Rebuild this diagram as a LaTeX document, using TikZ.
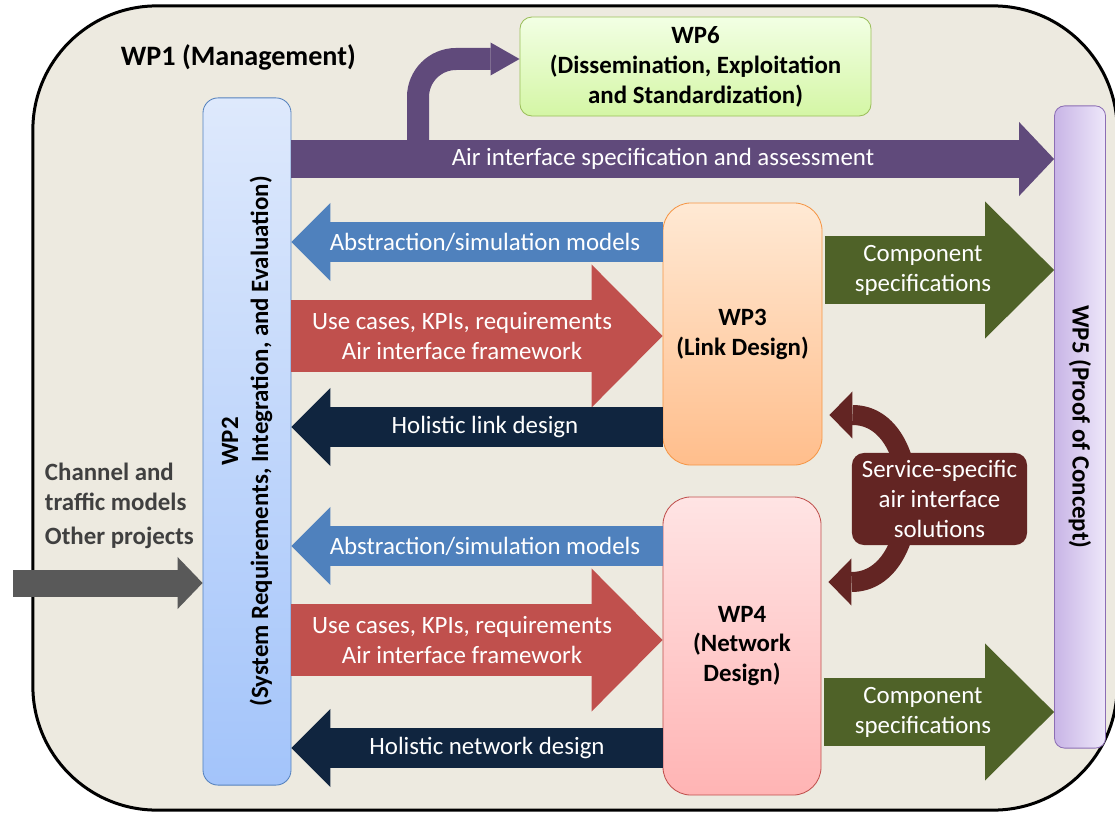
\documentclass[tikz,border=0pt]{standalone}
\usepackage{fontspec}
\setmainfont{Carlito}
\usetikzlibrary{arrows.meta,positioning}
\definecolor{bg}{RGB}{237,234,224}
\definecolor{pur}{RGB}{96,74,123}
\definecolor{blu}{RGB}{79,129,189}
\definecolor{rd}{RGB}{192,80,77}
\definecolor{navy}{RGB}{16,37,63}
\definecolor{olive}{RGB}{79,98,40}
\definecolor{gry}{RGB}{89,89,89}
\definecolor{txtgry}{RGB}{64,64,64}
\definecolor{dred}{RGB}{99,37,35}
\newcommand\wpfont{\fontsize{17.7}{21.3}\selectfont}
\tikzset{
  frame/.style={draw,line width=0.75mm,fill=bg,rounded corners=31mm,minimum width=271mm,minimum height=201mm},
  wpbox/.style={draw,line width=0.6pt,rounded corners=3.75mm,align=center,font=\bfseries\wpfont,inner sep=2pt},
  wptxt/.style={align=center,font=\bfseries\wpfont},
  lbl/.style={text=white,align=center,font=\wpfont},
  blk/.style n args={4}{draw=#1,fill=none,line width=#2,-{Triangle[length=#3,width=#4,line width=0pt]}},
  airarr/.style={blk={pur}{9.5mm}{8.75mm}{18.5mm}},
  bendarr/.style={blk={pur}{5.5mm}{7.25mm}{8.25mm},rounded corners=9.5mm},
  absarr/.style={blk={#1}{10mm}{9.75mm}{19.5mm}},
  usearr/.style={blk={rd}{18mm}{17.75mm}{35.75mm}},
  comparr/.style={blk={olive}{17mm}{17.25mm}{34.25mm},shorten <=0.6mm},
  inarr/.style={blk={gry}{6.75mm}{6.25mm}{13mm}},
  svcarr/.style={draw=dred,line width=5mm,{Triangle[length=5.75mm,width=11.75mm,line width=0pt]}-{Triangle[length=5.75mm,width=11.75mm,line width=0pt]},shorten <=1.75mm,shorten >=1.75mm}
}
\begin{document}
\begin{tikzpicture}[x=0.025cm,y=-0.025cm]
\useasboundingbox (0,0) rectangle (1115,813);
\node[frame] (wp1) at (575,408) {};
\node[wptxt,font=\bfseries\fontsize{20}{24}\selectfont,anchor=west] (wp1lbl) at (116,57) {WP1 (Management)};
% work packages
\node[wpbox,draw={rgb,255:red,85;green,130;blue,190},top color={rgb,255:red,222;green,233;blue,252},bottom color={rgb,255:red,163;green,196;blue,250},minimum width=22mm,minimum height=171.75mm] (wp2) at (247,441.5) {};
\node[wptxt,rotate=90] at (wp2) {WP2\\(System Requirements, Integration, and Evaluation)};
\node[wpbox,draw={rgb,255:red,155;green,190;blue,90},top color={rgb,255:red,242;green,255;blue,228},bottom color={rgb,255:red,212;green,246;blue,165},rounded corners=3mm,minimum width=87.75mm,minimum height=24.75mm] (wp6) at (695.5,66.5) {WP6\\(Dissemination, Exploitation\\and Standardization)};
\node[wpbox,draw={rgb,255:red,140;green,110;blue,180},left color={rgb,255:red,200;green,180;blue,230},right color={rgb,255:red,238;green,232;blue,250},rounded corners=2.5mm,minimum width=12.75mm,minimum height=160.5mm] (wp5) at (1080,427) {};
\node[wptxt,rotate=-90] at (wp5) {WP5 (Proof of Concept)};
\node[wpbox,draw={rgb,255:red,245;green,150;blue,70},top color={rgb,255:red,255;green,233;blue,212},bottom color={rgb,255:red,255;green,190;blue,140},rounded corners=7mm,minimum width=39.75mm,minimum height=65.5mm] (wp3) at (742.5,334) {WP3\\(Link Design)};
\node[wpbox,draw=rd,top color={rgb,255:red,255;green,228;blue,228},bottom color={rgb,255:red,255;green,180;blue,180},rounded corners=7mm,minimum width=39.5mm,minimum height=74.5mm] (wp4) at (742,646) {WP4\\(Network\\Design)};
% rows of the block arrows
\coordinate (rAir) at (663,159);
\coordinate (bend) at (418,159);
\coordinate (toWP6) at (0,59);
\coordinate (rAbs1) at (485,242);
\coordinate (rUse1) at (462,336);
\coordinate (rHol1) at (485,427);
\coordinate (rComp1) at (923,270);
\coordinate (rAbs2) at (485,546);
\coordinate (rUse2) at (462,640);
\coordinate (rHol2) at (487,748);
\coordinate (rComp2) at (923,712);
\coordinate (src) at (13,583);
\coordinate (svcA) at (0,415);
\coordinate (svcB) at (0,582);
\draw[bendarr] (bend) |- (wp6.west |- toWP6);
\draw[airarr] (wp2.east |- rAir) -- (wp5.west |- rAir);
\node[lbl] at (rAir) {Air interface specification and assessment};
\draw[absarr=blu] (wp3.west |- rAbs1) -- (wp2.east |- rAbs1);
\node[lbl] at (rAbs1) {Abstraction/simulation models};
\draw[usearr] (wp2.east |- rUse1) -- (wp3.west |- rUse1);
\node[lbl] at (rUse1) {Use cases, KPIs, requirements\\Air interface framework};
\draw[absarr=navy] (wp3.west |- rHol1) -- (wp2.east |- rHol1);
\node[lbl] at (rHol1) {Holistic link design};
\draw[comparr] (wp3.east |- rComp1) -- (wp5.west |- rComp1);
\node[lbl] at (rComp1) {Component\\specifications};
\draw[absarr=blu] (wp4.west |- rAbs2) -- (wp2.east |- rAbs2);
\node[lbl] at (rAbs2) {Abstraction/simulation models};
\draw[usearr] (wp2.east |- rUse2) -- (wp4.west |- rUse2);
\node[lbl] at (rUse2) {Use cases, KPIs, requirements\\Air interface framework};
\draw[absarr=navy] (wp4.west |- rHol2) -- (wp2.east |- rHol2);
\node[lbl] at (rHol2) {Holistic network design};
\draw[comparr] (wp4.east |- rComp2) -- (wp5.west |- rComp2);
\node[lbl] at (rComp2) {Component\\specifications};
% inputs
\node[wptxt,text=txtgry,align=left,anchor=west] (srclbl) at (40,506) {Channel and\\traffic models\\[3pt]Other projects};
\draw[inarr] (src) -- (wp2.west |- src);
% service-specific solutions
\draw[svcarr] (wp3.east |- svcA) to[out=0,in=0,looseness=1.6] (wp4.east |- svcB);
\node[lbl,fill=dred,rounded corners=3mm,minimum width=43.75mm,minimum height=23mm] (svc) at (939.5,499) {Service-specific\\air interface\\solutions};
\end{tikzpicture}
\end{document}
